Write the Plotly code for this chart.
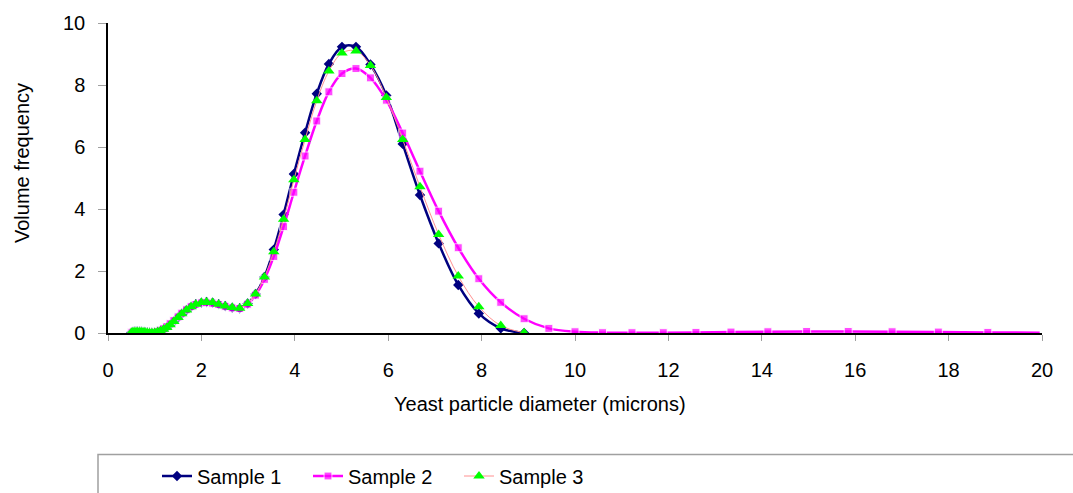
import plotly.graph_objects as go

# Particle diameter bins (microns)
diameter = [0.50, 0.53, 0.56, 0.60, 0.63, 0.67, 0.71, 0.75, 0.79, 0.84, 0.89, 0.94,
            1.00, 1.06, 1.12, 1.19, 1.26, 1.33, 1.41, 1.50, 1.58, 1.68, 1.78, 1.88,
            2.00, 2.11, 2.24, 2.37, 2.51, 2.66, 2.82, 2.99, 3.16, 3.35, 3.55, 3.76,
            3.98, 4.22, 4.47, 4.73, 5.01, 5.31, 5.62, 5.96, 6.31, 6.68, 7.08, 7.50,
            7.94, 8.41, 8.91, 9.44, 10.00, 10.59, 11.22, 11.89, 12.59, 13.34, 14.13,
            14.96, 15.85, 16.79, 17.78, 18.84, 19.95]

sample1 = [0.02, 0.03, 0.04, 0.04, 0.04, 0.04, 0.04, 0.03, 0.03, 0.02, 0.01, 0.01,
           0.02, 0.04, 0.07, 0.12, 0.18, 0.27, 0.37, 0.50, 0.62, 0.74, 0.85, 0.93,
           0.98, 1.00, 0.98, 0.93, 0.87, 0.82, 0.80, 0.95, 1.26, 1.81, 2.69, 3.82,
           5.13, 6.46, 7.72, 8.68, 9.23, 9.23, 8.66, 7.66, 6.10, 4.45, 2.89, 1.55,
           0.63, 0.15, 0.00]

sample2 = [0.02, 0.03, 0.04, 0.04, 0.04, 0.04, 0.04, 0.03, 0.03, 0.02, 0.01, 0.01,
           0.03, 0.05, 0.09, 0.14, 0.21, 0.30, 0.40, 0.52, 0.64, 0.75, 0.85, 0.92,
           0.97, 0.98, 0.96, 0.92, 0.86, 0.81, 0.79, 0.93, 1.22, 1.73, 2.47, 3.43,
           4.54, 5.71, 6.84, 7.78, 8.37, 8.53, 8.23, 7.51, 6.45, 5.22, 3.93, 2.75,
           1.75, 0.99, 0.46, 0.15, 0.04, 0.01, 0.01, 0.01, 0.02, 0.03, 0.04,
           0.05, 0.05, 0.04, 0.03, 0.02, 0.01]

sample3 = [0.02, 0.03, 0.04, 0.04, 0.04, 0.04, 0.04, 0.03, 0.03, 0.02, 0.01, 0.01,
           0.02, 0.04, 0.07, 0.12, 0.18, 0.27, 0.37, 0.50, 0.62, 0.74, 0.85, 0.93,
           0.98, 1.00, 0.98, 0.93, 0.87, 0.82, 0.80, 0.95, 1.26, 1.81, 2.62, 3.67,
           4.94, 6.24, 7.49, 8.45, 9.03, 9.10, 8.63, 7.60, 6.24, 4.72, 3.18, 1.84,
           0.85, 0.24, 0.01]

x_ticks = [0, 2, 4, 6, 8, 10, 12, 14, 16, 18, 20]
y_ticks = [0, 2, 4, 6, 8, 10]

FONT = "Liberation Sans, Arial, sans-serif"
FS = 20

fig = go.Figure()
fig.add_trace(go.Scatter(
    x=diameter[:len(sample1)], y=sample1, name="Sample 1", mode="lines+markers",
    line=dict(color="#000080", width=2.5, shape="spline", smoothing=1),
    marker=dict(symbol="diamond", size=8, color="#000080")))
sizes2 = [8] * (len(sample2) - 1) + [0]
fig.add_trace(go.Scatter(
    x=diameter[:len(sample2)], y=sample2, name="Sample 2", mode="lines+markers",
    line=dict(color="#FF00FF", width=2.5, shape="spline", smoothing=1),
    marker=dict(symbol="square", size=sizes2, color="#FF00FF")))
fig.add_trace(go.Scatter(
    x=diameter[:len(sample3)], y=sample3, name="Sample 3", mode="lines+markers",
    line=dict(color="#FF9090", width=1, shape="spline", smoothing=1),
    marker=dict(symbol="triangle-up", size=10, color="#00FF00")))

fig.update_layout(
    width=1073, height=493,
    margin=dict(l=108, r=31, t=23, b=160),
    paper_bgcolor="white", plot_bgcolor="white",
    font=dict(family=FONT, size=FS, color="black"),
    showlegend=True,
    legend=dict(orientation="h", xref="container", yref="container",
                x=157 / 1073, y=1 - 476 / 493, xanchor="left", yanchor="middle",
                entrywidth=106, entrywidthmode="pixels",
                font=dict(family=FONT, size=FS, color="black"),
                bgcolor="rgba(0,0,0,0)", itemwidth=30),
    xaxis=dict(range=[0, 20], tickvals=x_ticks, ticks="outside", ticklen=6,
               tickcolor="#A0A0A0", showline=True, linecolor="black", linewidth=1.5,
               showgrid=False, zeroline=False, ticklabelstandoff=12),
    yaxis=dict(range=[0, 10], tickvals=y_ticks, ticks="outside", ticklen=8,
               tickcolor="#A0A0A0", showline=True, linecolor="black", linewidth=1.5,
               showgrid=False, zeroline=False, ticklabelstandoff=9),
    annotations=[
        dict(text="Volume frequency", xref="paper", yref="paper",
             x=(22 - 108) / 934, y=(333.3 - 163) / 310.6, textangle=-90,
             showarrow=False, xanchor="center", yanchor="middle",
             font=dict(family=FONT, size=FS)),
        dict(text="Yeast particle diameter (microns)", xref="paper", yref="paper",
             x=(540 - 108) / 934, y=(333.3 - 404) / 310.6,
             showarrow=False, xanchor="center", yanchor="middle",
             font=dict(family=FONT, size=FS)),
    ],
    shapes=[dict(type="rect", xref="paper", yref="paper",
                 x0=(98 - 108) / 934, x1=1.2, y0=-0.7, y1=(333.3 - 455) / 310.6,
                 line=dict(color="#A0A0A0", width=1.5), fillcolor="rgba(0,0,0,0)",
                 layer="below")],
)

fig.write_html("out.html", config={"displayModeBar": False},
               post_script="document.body.style.margin='0';document.body.style.overflow='hidden';")
